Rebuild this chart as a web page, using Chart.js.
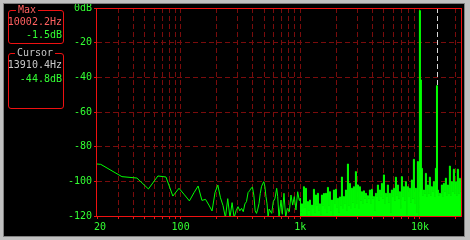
<!DOCTYPE html>
<html>
<head>
<meta charset="utf-8">
<script src="https://cdn.jsdelivr.net/npm/chart.js"></script>
<style>
  html, body { margin: 0; padding: 0; background: #000; }
  #wrap { position: relative; width: 470px; height: 240px; overflow: hidden; background: #000; }
  #chart { position: absolute; left: 0; top: 0; }
  #frame { position: absolute; left: 0; top: 0; width: 470px; height: 240px; box-sizing: border-box;
    border-style: solid; border-color: #c0c0c0; border-width: 3px 5px 3px 3px;
    box-shadow: inset 0 0 0 1px #808080; pointer-events: none; }
  .box { position: absolute; left: 8px; width: 56px; box-sizing: border-box;
    border: 1px solid #ee1111; border-radius: 3px; font: 10px "DejaVu Sans Mono", monospace; }
  .box span { position: absolute; line-height: 12px; white-space: pre; }
  .cap { background: #000; padding: 0 2px; }
  .val { right: 1px; }
</style>
</head>
<body>
<div id="wrap">
  <canvas id="chart" width="470" height="240"></canvas>
  <div class="box" style="top:10px;height:34px">
    <span class="cap" id="maxCap" style="left:7px;top:-7px;color:#ff6060">Max</span>
    <span class="val" id="maxHz" style="top:5px;color:#ff6060"></span>
    <span class="val" id="maxDb" style="top:18px;color:#33ff33"></span>
  </div>
  <div class="box" style="top:53px;height:56px">
    <span class="cap" id="curCap" style="left:6px;top:-7px;color:#c8c8c8">Cursor</span>
    <span class="val" id="curHz" style="top:5px;color:#c8c8c8"></span>
    <span class="val" id="curDb" style="top:19px;color:#33ff33"></span>
  </div>
  <div id="frame"></div>
</div>
<script>
// spectrum below ~1 kHz (drawn as a plain line)
const lowHz = [20, 21.5, 32.3, 43.1, 53.8, 64.6, 75.4, 86.1, 96.9, 107.7, 118.4, 129.2, 140, 150.7,
  161.5, 172.3, 183.1, 193.8, 204.6, 215.3, 226.1, 236.9, 247.6, 258.4, 269.2, 280, 290.7, 301.5,
  312.3, 323, 333.8, 344.6, 355.3, 366.1, 376.9, 387.6, 398.4, 409.2, 420, 430.7, 441.5, 452.3,
  463, 473.8, 484.6, 495.4, 506.1, 516.9, 527.7, 538.4, 549.2, 576.9, 595, 614.8, 635.2, 647.6,
  664, 690, 707.5, 730.9, 755.3, 779.2, 809.8, 836.2, 864.2, 891.2, 920.8, 951.4, 981.2, 994];
const lowDb = [-90, -90.2, -97.3, -98.1, -104.4, -96.9, -97.5, -108.5, -104, -107.8, -111.3, -106.6, -102.7, -111,
  -110.4, -113.7, -117.1, -106.5, -102.1, -109.5, -114, -121, -110, -121, -112.3, -121, -117, -114.6,
  -117, -115.6, -117.5, -113, -111.7, -106.5, -105.5, -104, -103.4, -108, -117, -118.5, -116, -112.7,
  -107, -103.1, -101.5, -100.2, -103, -108.8, -113, -121, -116, -118.5, -111.7, -109.8, -104, -108.8,
  -121, -110.8, -119, -106.9, -121, -115.6, -117.5, -107.9, -113.7, -108.8, -116.5, -106, -111, -109.8];

// dense spectrum above 1 kHz (filled down to the floor)
const highHz = [994, 1014, 1033, 1053, 1073, 1094, 1115, 1137, 1159, 1182, 1205, 1228, 1252, 1276,
  1301, 1326, 1352, 1378, 1405, 1432, 1460, 1488, 1517, 1547, 1577, 1608, 1639, 1671, 1703, 1736,
  1770, 1804, 1839, 1875, 1911, 1948, 1986, 2025, 2064, 2104, 2145, 2187, 2229, 2272, 2317, 2362,
  2408, 2455, 2502, 2551, 2600, 2651, 2702, 2755, 2808, 2863, 2918, 2975, 3033, 3092, 3152, 3213,
  3275, 3339, 3404, 3470, 3537, 3606, 3676, 3747, 3820, 3894, 3970, 4047, 4126, 4206, 4288, 4371,
  4456, 4543, 4631, 4721, 4812, 4906, 5001, 5098, 5197, 5298, 5401, 5506, 5613, 5722, 5833, 5946,
  6062, 6180, 6300, 6422, 6547, 6674, 6804, 6936, 7070, 7208, 7348, 7490, 7636, 7784, 7935, 8089,
  8247, 8407, 8570, 8736, 8906, 9079, 9256, 9436, 9619, 9806, 10002.2, 10190, 10388, 10590, 10796,
  11006, 11219, 11437, 11659, 11885, 12117, 12352, 12592, 12837, 13086, 13341, 13600, 13910.4, 14133,
  14408, 14688, 14973, 15264, 15561, 15863, 16171, 16485, 16806, 17132, 17465, 17804, 18150, 18503,
  18862, 19228, 19602, 19983, 20371, 20767, 21170, 21582, 22050];
const highDb = [-109.8, -118, -113, -116, -103.1, -115, -104, -119, -111.7, -117, -110.8, -120, -113.7, -116,
  -104.6, -118, -107.9, -114, -106.9, -117, -113, -119, -107.9, -114, -107, -116, -106.9, -118, -103.5, -114,
  -106, -117, -110.8, -120, -105, -113, -104.6, -115, -109.8, -118, -109, -114, -97.5, -116, -108.8, -113,
  -105, -117, -90, -114, -101.2, -116, -104, -112, -103.1, -115, -94.4, -113, -102.1, -116, -103.1, -111,
  -106, -113, -105.5, -110, -106.9, -112, -108.3, -110, -105, -113, -104.6, -110, -108.8, -117, -106.9, -109,
  -102.1, -111, -105, -109, -101.2, -110, -96.3, -113, -106.9, -109, -102.1, -112, -106.9, -118, -105, -109,
  -104, -111, -97.6, -108, -102.1, -110, -106, -116, -97.3, -109, -103.1, -111, -100.2, -119, -103.1, -109,
  -104, -112, -99.2, -110, -87.3, -113, -104, -118, -88.6, -121, -1.5, -41.5, -92.5, -108, -105,
  -107, -95.4, -109, -102.1, -107, -97.6, -108, -103.1, -106, -100.2, -109, -92.5, -44.8, -105,
  -108, -106.9, -107, -102.1, -109, -101.2, -106, -98.2, -108, -102.1, -107, -91.2, -108, -100.2,
  -106, -93, -107, -100.2, -108, -93, -107, -98.3, -106];

const xTickHz = [20, 30, 40, 50, 60, 70, 80, 90, 100, 200, 300, 400, 500, 600, 700, 800, 900,
  1000, 2000, 3000, 4000, 5000, 6000, 7000, 8000, 9000, 10000, 20000];
const xLabelHz = [20, 100, 1000, 10000];
const xLabelText = [' 20', '100', '1k', '10k'];
const yTickDb = [0, -20, -40, -60, -80, -100, -120];

const maxHz = 10002.2, maxDb = -1.5;
const cursorHz = 13910.4, cursorDb = -44.8;

const green = '#00ff00';
const textGreen = '#33ff33';
const frameRed = '#ee1111';
const gridRed = '#7a0c0c';
const font = { family: 'DejaVu Sans Mono', size: 10 };

document.getElementById('maxHz').textContent = maxHz.toFixed(1) + 'Hz';
document.getElementById('maxDb').textContent = maxDb.toFixed(1) + 'dB';
document.getElementById('curHz').textContent = cursorHz.toFixed(1) + 'Hz';
document.getElementById('curDb').textContent = cursorDb.toFixed(1) + 'dB';

// dashed cursor marker, from top down to the cursor level
const cursorLine = {
  id: 'cursorLine',
  beforeDatasetsDraw(chart) {
    const { ctx, chartArea, scales: { x, y } } = chart;
    const px = Math.round(x.getPixelForValue(cursorHz)) + 0.5;
    ctx.save();
    ctx.strokeStyle = '#d8d8d8';
    ctx.lineWidth = 1;
    ctx.setLineDash([5, 3]);
    ctx.beginPath();
    ctx.moveTo(px, chartArea.top);
    ctx.lineTo(px, y.getPixelForValue(cursorDb));
    ctx.stroke();
    ctx.restore();
  }
};

// red box round the plot area
const plotFrame = {
  id: 'plotFrame',
  afterDatasetsDraw(chart) {
    const { ctx, chartArea: a } = chart;
    const l = Math.floor(a.left) - 0.5, r = Math.ceil(a.right) + 0.5;
    const t = Math.round(a.top) + 0.5, b = Math.round(a.bottom) + 0.5;
    ctx.save();
    ctx.strokeStyle = frameRed;
    ctx.lineWidth = 1;
    ctx.strokeRect(l, t, r - l, b - t);
    ctx.restore();
  }
};

new Chart(document.getElementById('chart'), {
  type: 'line',
  data: {
    datasets: [
      { data: lowHz.map((f, i) => ({ x: f, y: lowDb[i] })), borderColor: green, borderWidth: 1,
        pointRadius: 0, fill: false },
      { data: highHz.map((f, i) => ({ x: f, y: highDb[i] })), borderColor: green, backgroundColor: green,
        borderWidth: 1, pointRadius: 0, fill: 'start', stepped: 'middle' }
    ]
  },
  options: {
    responsive: false,
    animation: false,
    layout: { padding: { top: 8, right: 9, left: 0, bottom: 0 } },
    plugins: { legend: { display: false }, tooltip: { enabled: false } },
    scales: {
      x: {
        type: 'logarithmic', min: 20, max: 22050,
        afterBuildTicks: s => { s.ticks = xTickHz.map(v => ({ value: v })); },
        afterFit: s => { s.height = 24; },
        grid: {
          color: c => (c.tick && c.tick.value === 20) ? 'rgba(0,0,0,0)' : gridRed,
          tickLength: 3, tickColor: frameRed
        },
        border: { display: false, dash: [5, 3] },
        ticks: {
          autoSkip: false, maxRotation: 0, padding: 2, color: textGreen, font: font,
          callback: v => { const i = xLabelHz.indexOf(v); return i < 0 ? '' : xLabelText[i]; }
        }
      },
      y: {
        min: -120, max: 0,
        afterBuildTicks: s => { s.ticks = yTickDb.map(v => ({ value: v })); },
        afterFit: s => { s.width = 97; },
        grid: {
          color: c => (c.tick && (c.tick.value === 0 || c.tick.value === -120)) ? 'rgba(0,0,0,0)' : gridRed,
          tickLength: 3, tickColor: frameRed
        },
        border: { display: false, dash: [5, 3] },
        ticks: { padding: 2, color: textGreen, font: font, callback: v => v === 0 ? '0dB' : String(v) }
      }
    }
  },
  plugins: [cursorLine, plotFrame]
});
</script>
</body>
</html>
